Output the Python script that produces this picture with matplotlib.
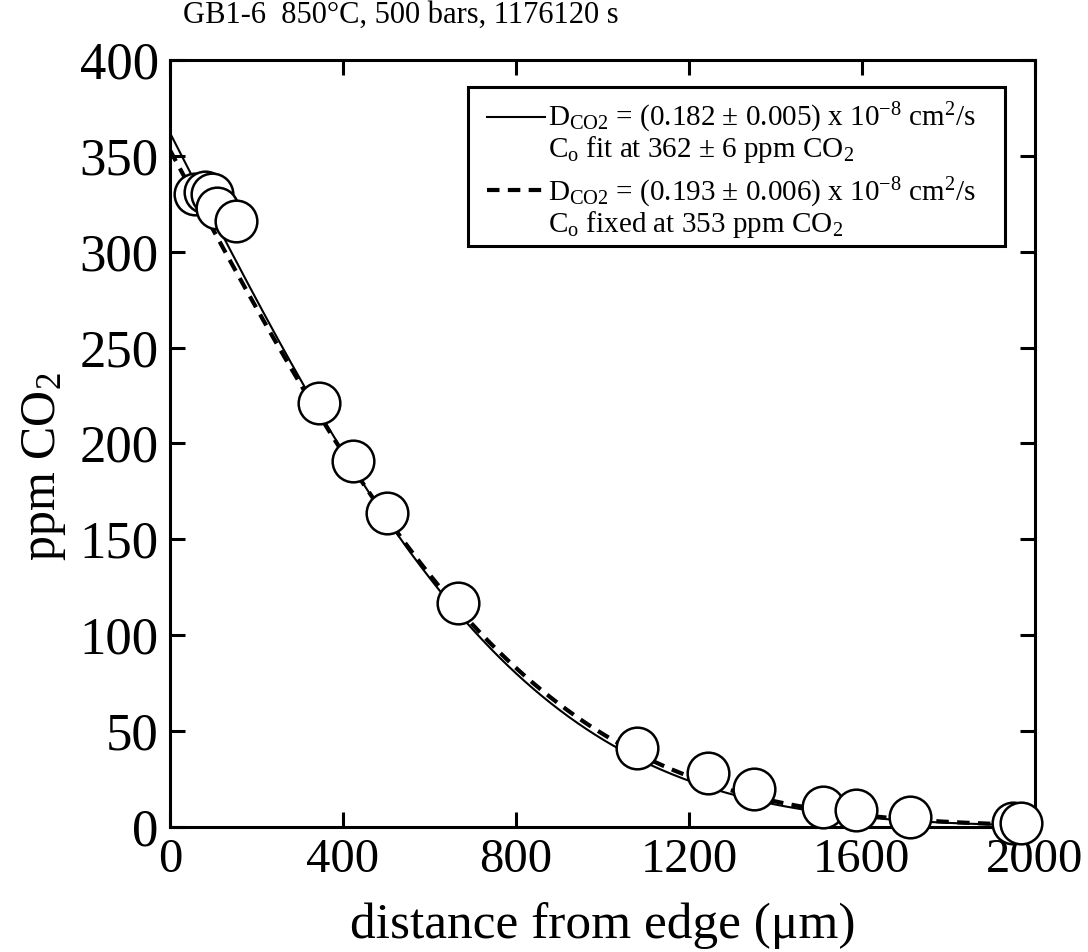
import math
import numpy as np
import matplotlib
matplotlib.use('Agg')
import matplotlib.pyplot as plt
from matplotlib.patches import Rectangle

plt.rcParams['font.family'] = ['Liberation Serif', 'DejaVu Serif']
plt.rcParams['mathtext.fontset'] = 'custom'
plt.rcParams['mathtext.rm'] = 'Liberation Serif'
plt.rcParams['mathtext.it'] = 'Liberation Serif:italic'

# measured profile (distance in um, ppm CO2)
distance = [58, 81, 97, 109, 153, 345, 423, 502, 666,
            1080, 1244, 1350, 1510, 1586, 1711, 1949, 1968]
ppm_co2 = [330, 331, 330, 323, 316, 221, 191, 164, 117,
           41, 28, 20, 10.4, 8.9, 5.2, 2, 2]

# fit parameters stated in the legend
run_time = 1176120          # s
d_fit, c0_fit = 0.182e-8, 362    # cm2/s, ppm
d_fixed, c0_fixed = 0.193e-8, 353

x_ticks = [0, 400, 800, 1200, 1600, 2000]
y_ticks = [0, 50, 100, 150, 200, 250, 300, 350, 400]


def erfc_profile(x_um, d, c0):
    # semi-infinite diffusion out of the edge
    L = math.sqrt(d * run_time) * 1e4   # um
    return np.array([c0 * math.erfc(x / (2 * L)) for x in x_um])


xs = np.linspace(0, 2000, 400)

fig = plt.figure(figsize=(10.88, 9.52), dpi=100)
ax = fig.add_axes([0.1562, 0.1313, 0.795, 0.8057])

ax.plot(xs, erfc_profile(xs, d_fit, c0_fit), color='black', lw=1.5, zorder=2)
ax.plot(xs, erfc_profile(xs, d_fixed, c0_fixed), color='black', lw=3,
        dashes=(3, 2), zorder=2)
ax.plot(distance, ppm_co2, 'o', ms=30, mfc='white', mec='black', mew=1.8,
        zorder=3, clip_on=False)

ax.set_xlim(0, 2000)
ax.set_ylim(0, 400)
ax.set_xticks(x_ticks)
ax.set_yticks(y_ticks)
ax.tick_params(direction='in', length=11, width=2.2, top=True, right=True)
ax.tick_params(axis='x', labelsize=35, pad=8)
ax.tick_params(axis='y', labelsize=38, pad=8)
for s in ax.spines.values():
    s.set_linewidth(2.2)

ax.set_xlabel('distance from edge (\u03bcm)', fontsize=37, labelpad=14)
ax.set_ylabel('ppm CO$_2$', fontsize=36)
ax.yaxis.set_label_coords(-0.118, 0.47)

fig.text(0.168, 0.984, 'GB1-6  850\u00b0C, 500 bars, 1176120 s',
         fontsize=22, ha='left', va='center')

# legend drawn by hand so the line sample sits next to the first text line
ax.add_patch(Rectangle((0.3445, 0.7575), 0.6208, 0.2073, transform=ax.transAxes,
                       fill=True, fc='white', ec='black', lw=2.2, zorder=4))
ax.plot([0.3665, 0.4335], [0.926, 0.926], transform=ax.transAxes,
        color='black', lw=1.5, zorder=5)
ax.plot([0.3665, 0.4335], [0.830, 0.830], transform=ax.transAxes,
        color='black', lw=3, dashes=(3, 2), zorder=5)
leg_fs = 21
ax.text(0.437, 0.924, r'D$_{\mathrm{CO2}}$ = (0.182 $\pm$ 0.005) x 10$^{\mathrm{-8}}$ cm$^{\mathrm{2}}$/s',
        transform=ax.transAxes, fontsize=leg_fs, va='center', zorder=6)
ax.text(0.437, 0.883, r'C$_{\mathrm{o}}$ fit at 362 $\pm$ 6 ppm CO$_{\mathrm{2}}$',
        transform=ax.transAxes, fontsize=leg_fs, va='center', zorder=6)
ax.text(0.437, 0.827, r'D$_{\mathrm{CO2}}$ = (0.193 $\pm$ 0.006) x 10$^{\mathrm{-8}}$ cm$^{\mathrm{2}}$/s',
        transform=ax.transAxes, fontsize=leg_fs, va='center', zorder=6)
ax.text(0.437, 0.786, r'C$_{\mathrm{o}}$ fixed at 353 ppm CO$_{\mathrm{2}}$',
        transform=ax.transAxes, fontsize=leg_fs, va='center', zorder=6)

fig.savefig('out.png', dpi=100)
